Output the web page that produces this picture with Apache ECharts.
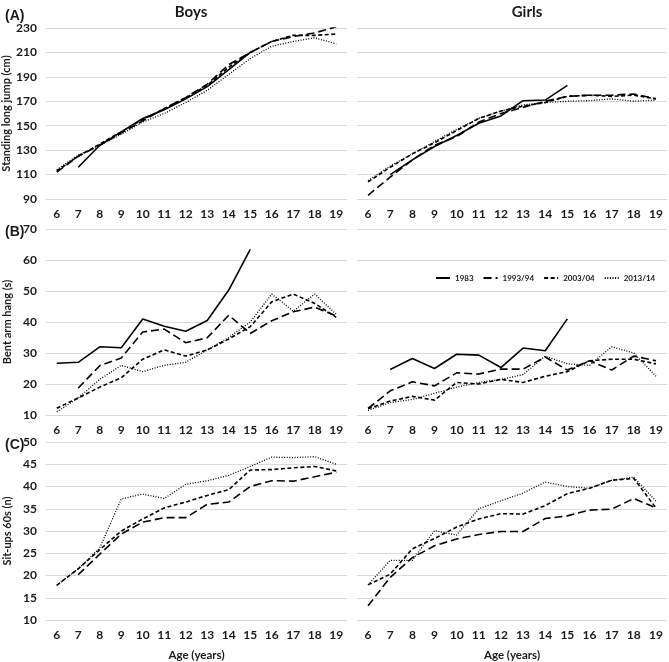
<!DOCTYPE html>
<html>
<head>
<meta charset="utf-8">
<script src="https://cdn.jsdelivr.net/npm/echarts@6/dist/echarts.min.js"></script>
<style>
html,body{margin:0;padding:0;background:#fff;}
#chart{width:669px;height:662px;}
</style>
</head>
<body>
<div id="chart"></div>
<script>
var ages = ['6','7','8','9','10','11','12','13','14','15','16','17','18','19'];
var seriesNames = ['1983','1993/94','2003/04','2013/14'];

// (A) standing long jump (cm)
var jumpBoys1983 = [null,116,134,145,156,163,172,182,196,210,null,null,null,null];
var jumpBoys1993 = [112,125,134,144,154,164,173,184,200,210,219,223,226,231];
var jumpBoys2003 = [113,125,135,145,155,164,173,183,198,210,219,224,224,225];
var jumpBoys2013 = [114,126,134,143,153,160,169,179,192,205,215,219,222,217];
var jumpGirls1983 = [null,110,122,133,142,152,158,170.5,171,183,null,null,null,null];
var jumpGirls1993 = [93,108,122,134,141,153,160,165,170,174,175,175,176,172];
var jumpGirls2003 = [104,116,127,136,146,156,162,166,169,174,175,174,175,172];
var jumpGirls2013 = [105,117,127,137,147,156,162,167,169,170,170.5,172,170,171];

// (B) bent arm hang (s)
var hangBoys1983 = [26.7,27,32,31.7,41,38.6,37,40.5,50.3,63.4,null,null,null,null];
var hangBoys1993 = [null,18.7,25.9,28.4,36.8,37.7,33.3,34.9,42.2,36.3,40.4,43.3,44.8,42];
var hangBoys2003 = [12.2,15.5,19,22,28,31,29,31,34.5,38.5,46.5,49,46,41.5];
var hangBoys2013 = [11,15.5,21.5,26,24,26,27,31,35,40,49,43.5,49,42.5];
var hangGirls1983 = [null,24.7,28.2,25,29.6,29.3,25.3,31.6,30.7,41,null,null,null,null];
var hangGirls1993 = [12.1,17.8,20.7,19.4,23.6,23.2,24.8,24.8,28.7,24.5,27.5,24.5,29,27.5];
var hangGirls2003 = [12,14.5,16,14.8,20.5,20,21.5,20.5,22.5,24,27.5,28,28,26.5];
var hangGirls2013 = [11.5,14,15,17,19,20.5,21.5,23,29,26.5,26,32,30,22.5];

// (C) sit-ups 60s (n)
var situpBoys1993 = [null,20.2,24.8,29.3,32,33,33,36,36.5,40,41.3,41.2,42.2,43.2];
var situpBoys2003 = [17.8,21.5,25.8,30,32.7,35.2,36.5,38,39.3,43.7,43.8,44.2,44.5,43.5];
var situpBoys2013 = [17.8,21.5,26.2,37.2,38.3,37.3,40.5,41.3,42.5,44.5,46.6,46.5,46.7,45];
var situpGirls1993 = [13.2,19.6,24,26.7,28.2,29.2,29.9,29.9,32.8,33.4,34.7,34.9,37.3,35.2];
var situpGirls2003 = [17.9,20.3,26,28.3,30.9,32.7,33.9,33.8,35.7,38.4,39.6,41.4,41.8,35.2];
var situpGirls2013 = [17.9,23.4,23.4,30.1,29.1,35,36.8,38.5,41,40,39.6,41.4,42.1,36.7];

var fontName = 'Lato';
var textColor = '#1a1a1a';

var lineTypes = {
	'1983': {type:'solid', width:1.6},
	'1993/94': {type:[8,4], width:1.6},
	'2003/04': {type:[4,2.5], width:1.6},
	'2013/14': {type:[1,1.6], width:1.3}
};

function makeSeries(name, data, idx){
	return {
		name: name,
		type: 'line',
		xAxisIndex: idx,
		yAxisIndex: idx,
		data: data,
		symbol: 'none',
		silent: true,
		itemStyle: {color:'#000'},
		lineStyle: {color:'#000', type:lineTypes[name].type, width:lineTypes[name].width}
	};
}

var rows = [
	{top:28, height:171, min:90, max:230, interval:20, name:'Standing long jump (cm)'},
	{top:229, height:186, min:10, max:70, interval:10, name:'Bent arm hang (s)'},
	{top:442, height:182, min:10, max:50, interval:5, name:'Sit-ups 60s (n)'}
];
var cols = [
	{left:46, width:301},
	{left:357, width:310}
];

var grids = [], xAxes = [], yAxes = [];
for (var r = 0; r < 3; r++){
	for (var c = 0; c < 2; c++){
		grids.push({left:cols[c].left, width:cols[c].width, top:rows[r].top, height:rows[r].height});
		xAxes.push({
			type:'category',
			gridIndex: r*2+c,
			data: ages,
			boundaryGap: true,
			axisLine:{show:false},
			axisTick:{show:false},
			axisLabel:{interval:0, margin:9, color:textColor, fontFamily:fontName, fontWeight:'bold', fontSize:12},
			name: r == 2 ? 'Age (years)' : '',
			nameLocation:'middle',
			nameGap:29,
			nameTextStyle:{color:textColor, fontFamily:fontName, fontWeight:'bold', fontSize:11.5}
		});
		yAxes.push({
			type:'value',
			gridIndex: r*2+c,
			min: rows[r].min,
			max: rows[r].max,
			interval: rows[r].interval,
			axisLine:{show:false},
			axisTick:{show:false},
			axisLabel:{show: c == 0, margin:9, color:textColor, fontFamily:fontName, fontWeight:'bold', fontSize:12},
			splitLine:{lineStyle:{color:'#d9d9d9', width:1}},
			name: c == 0 ? rows[r].name : '',
			nameLocation:'middle',
			nameGap:33,
			nameTextStyle:{color:textColor, fontFamily:fontName, fontWeight:'bold', fontSize:11}
		});
	}
}

var series = [
	makeSeries('1983', jumpBoys1983, 0),
	makeSeries('1993/94', jumpBoys1993, 0),
	makeSeries('2003/04', jumpBoys2003, 0),
	makeSeries('2013/14', jumpBoys2013, 0),
	makeSeries('1983', jumpGirls1983, 1),
	makeSeries('1993/94', jumpGirls1993, 1),
	makeSeries('2003/04', jumpGirls2003, 1),
	makeSeries('2013/14', jumpGirls2013, 1),
	makeSeries('1983', hangBoys1983, 2),
	makeSeries('1993/94', hangBoys1993, 2),
	makeSeries('2003/04', hangBoys2003, 2),
	makeSeries('2013/14', hangBoys2013, 2),
	makeSeries('1983', hangGirls1983, 3),
	makeSeries('1993/94', hangGirls1993, 3),
	makeSeries('2003/04', hangGirls2003, 3),
	makeSeries('2013/14', hangGirls2013, 3),
	makeSeries('1993/94', situpBoys1993, 4),
	makeSeries('2003/04', situpBoys2003, 4),
	makeSeries('2013/14', situpBoys2013, 4),
	makeSeries('1993/94', situpGirls1993, 5),
	makeSeries('2003/04', situpGirls2003, 5),
	makeSeries('2013/14', situpGirls2013, 5)
];

var titleStyle = {color:textColor, fontFamily:fontName, fontWeight:'bold', fontSize:15};
var letterStyle = {color:textColor, fontFamily:'Liberation Sans', fontWeight:'bold', fontSize:14};

var chart = echarts.init(document.getElementById('chart'), null, {renderer:'canvas'});
chart.setOption({
	backgroundColor:'#fff',
	animation:false,
	title:[
		{text:'Boys', left:186, top:0, textAlign:'center', textStyle:titleStyle},
		{text:'Girls', left:522, top:0, textAlign:'center', textStyle:titleStyle},
		{text:'(A)', left:0, top:4, textStyle:letterStyle},
		{text:'(B)', left:0, top:220, textStyle:letterStyle},
		{text:'(C)', left:0, top:433, textStyle:letterStyle}
	],
	legend:{
		data: seriesNames,
		left: 430,
		top: 269,
		itemWidth: 14,
		itemHeight: 8,
		itemGap: 9,
		selectedMode: false,
		itemStyle: {opacity:0},
		textStyle:{color:textColor, fontFamily:fontName, fontWeight:'bold', fontSize:8}
	},
	grid: grids,
	xAxis: xAxes,
	yAxis: yAxes,
	series: series
});
</script>
</body>
</html>
